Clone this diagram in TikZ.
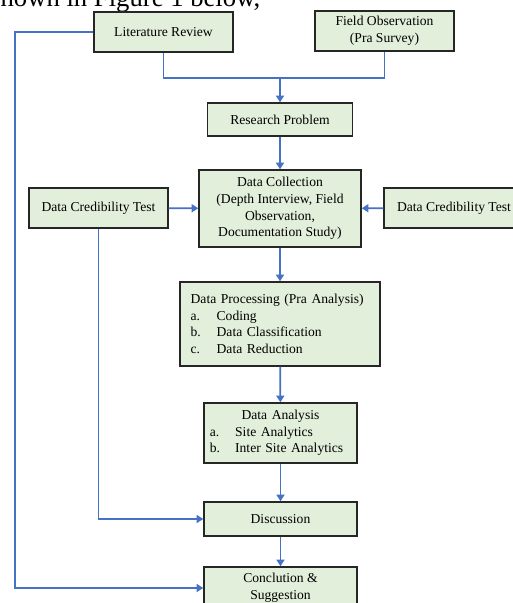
\documentclass[tikz,border=0pt]{standalone}
\usepackage{fontspec}
\setmainfont{Liberation Serif}
\usetikzlibrary{arrows.meta}
\definecolor{boxgreen}{HTML}{E2EFDA}
\definecolor{flowblue}{HTML}{4472C4}

\begin{document}
\begin{tikzpicture}[x=0.75pt,y=-0.75pt,
  box/.style={draw=black!85, fill=boxgreen, line width=1.1pt, align=center, inner sep=0pt,
    font=\fontsize{10.2}{12.4}\selectfont},
  flow/.style={draw=flowblue, line width=1.3pt},
  arrow/.style={flow, -{Triangle[length=5pt,width=6pt]}}]
\path[use as bounding box, clip] (0,0) rectangle (513,603);

\node[anchor=base west, font=\fontsize{20}{24}\selectfont, inner sep=0pt] (intro) at (-10,7) {shown in Figure 1 below,};

\node[box, minimum width=104.25pt, minimum height=30pt] (lit) at (163.5,32) {Literature Review};
\node[box, minimum width=104.25pt, minimum height=30pt] (field) at (384.5,31) {Field Observation\\(Pra Survey)};
\node[box, minimum width=108.75pt, minimum height=24.75pt] (prob) at (280,119.5) {Research Problem};
\node[box, minimum width=121.5pt, minimum height=57.75pt] (coll) at (280,208.5) {Data Collection\\(Depth Interview, Field\\Observation,\\Documentation Study)};
\node[box, minimum width=104.25pt, minimum height=30pt] (dctl) at (98.5,208) {Data Credibility Test};
\node[box, minimum width=105pt, minimum height=30pt] (dctr) at (454,208) {Data Credibility Test};
\node[box, text width=134pt, inner xsep=8pt, align=left, minimum height=63pt] (proc) at (280,324) {Data Processing (Pra Analysis)\\
  \makebox[19.5pt][l]{a.}Coding\\
  \makebox[19.5pt][l]{b.}Data Classification\\
  \makebox[19.5pt][l]{c.}Data Reduction};
\node[box, text width=106pt, inner xsep=4.4pt, align=left, minimum height=45pt] (anal) at (280.5,433) {\makebox[\linewidth]{Data Analysis}\\
  \makebox[19pt][l]{a.}Site Analytics\\
  \makebox[19pt][l]{b.}Inter Site Analytics};
\node[box, minimum width=114.75pt, minimum height=25.5pt] (disc) at (280.5,519) {Discussion};
\node[box, minimum width=114.75pt, minimum height=31.5pt] (concl) at (280.5,588) {Conclution \&\\Suggestion};

\coordinate (merge) at (280,78);
\coordinate (corner) at (15,32);

\draw[flow] (lit.south) |- (merge) -| (field.south);
\draw[arrow] (merge) -- (prob.north);
\draw[arrow] (prob) -- (coll);
\draw[arrow] (dctl) -- (coll);
\draw[arrow] (dctr) -- (coll);
\draw[arrow] (coll) -- (proc);
\draw[arrow] (proc) -- (anal);
\draw[arrow] (anal) -- (disc);
\draw[arrow] (disc) -- (concl);
\draw[arrow] (dctl.south) |- (disc.west);
\draw[arrow] (lit.west) -- (corner) |- (concl.west);

\end{tikzpicture}
\end{document}
